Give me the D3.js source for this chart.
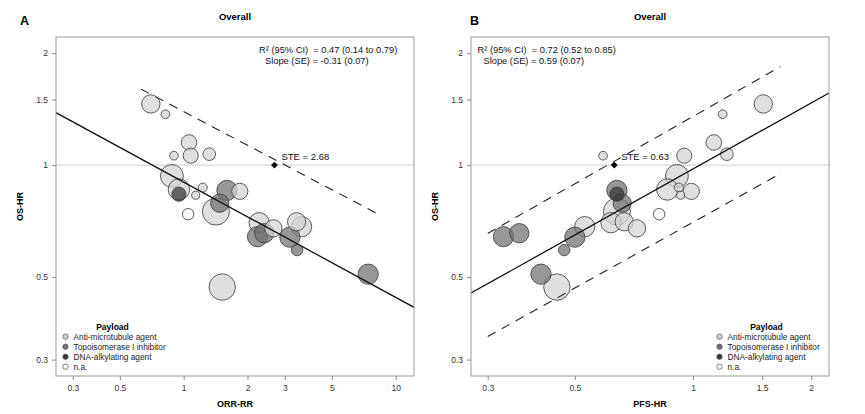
<!DOCTYPE html>
<html>
<head>
<meta charset="utf-8">
<script src="https://cdn.jsdelivr.net/npm/d3@7"></script>
<style>
  body { margin: 0; background: #fff; }
  svg { font-family: "Liberation Sans", Arial, sans-serif; }
</style>
</head>
<body>
<svg id="chart" width="865" height="414"></svg>
<script>
// one entry per trial, same order in every array
let trialOS  = [1.46, 1.37, 1.15, 1.06, 1.06, 1.07, 0.935, 0.86, 0.835, 0.87, 0.83, 0.855, 0.85,
                0.79, 0.75, 0.738, 0.70, 0.676, 0.704, 0.683, 0.642, 0.656, 0.64, 0.591, 0.509, 0.47];
let trialORR = [0.70, 0.82, 1.06, 0.90, 1.08, 1.32, 0.88, 0.95, 0.95, 1.23, 1.14, 1.60, 1.84,
                1.48, 1.42, 1.05, 2.27, 2.65, 3.41, 3.60, 2.23, 2.40, 3.17, 3.43, 7.42, 1.52];
let trialPFS = [1.51, 1.19, 1.13, 0.59, 0.95, 1.22, 0.91, 0.86, 0.64, 0.92, 0.93, 0.64, 0.99,
                0.66, 0.64, 0.82, 0.618, 0.72, 0.668, 0.53, 0.329, 0.361, 0.50, 0.47, 0.41, 0.45];
let trialPayload = ["anti", "anti", "anti", "anti", "anti", "anti", "anti", "anti", "dna", "anti", "anti", "topo", "anti",
                    "topo", "anti", "na", "anti", "anti", "anti", "anti", "topo", "topo", "topo", "topo", "topo", "anti"];
let trialN = [180, 40, 130, 40, 122, 85, 280, 245, 108, 44, 35, 219, 140,
              178, 390, 70, 219, 160, 178, 219, 219, 200, 219, 70, 219, 371];

let payloadKeys = ["anti", "topo", "dna", "na"];
let payloadLabels = ["Anti-microtubule agent", "Topoisomerase I inhibitor", "DNA-alkylating agent", "n.a."];
let payloadColors = ["#d2d2d2", "#6f6f6f", "#333333", "#f8f8f8"];

let osTicks = [0.3, 0.5, 1, 1.5, 2];
let orrTicks = [0.3, 0.5, 1, 2, 3, 5, 10];
let pfsTicks = [0.3, 0.5, 1, 1.5, 2];

// fitted line: ln(OS-HR) = intercept + slope * ln(x)
let fitORR = { intercept: -0.105, slope: -0.31 };
let fitPFS = { intercept: -0.024, slope: 0.59 };
// prediction-limit dashed lines, end points
let bandORR = [[[0.63, 1.60], [8.2, 0.74]]];
let bandPFS = [[[0.30, 0.655], [1.67, 1.84]], [[0.30, 0.346], [1.68, 0.952]]];
let steORR = 2.68;
let stePFS = 0.63;

let trials = trialOS.map((os, i) => ({
  os: os, orr: trialORR[i], pfs: trialPFS[i], payload: trialPayload[i], n: trialN[i]
}));

let svg = d3.select("#chart");
svg.append("rect").attr("width", 865).attr("height", 414).attr("fill", "#fff");

let color = d3.scaleOrdinal().domain(payloadKeys).range(payloadColors);
let radius = d3.scaleSqrt().domain([0, 400]).range([0, 13.7]);

function drawPanel(cfg) {
  let g = svg.append("g");
  let x = d3.scaleLog().domain(cfg.xDomain).range([cfg.left, cfg.right]);
  let y = d3.scaleLog().domain([0.271, 2.21]).range([cfg.bottom, cfg.top]);

  // panel letter and title
  g.append("text").attr("x", cfg.letterX).attr("y", 25)
    .attr("font-size", 12.5).attr("font-weight", "bold").text(cfg.letter);
  g.append("text").attr("x", (cfg.left + cfg.right) / 2).attr("y", 20)
    .attr("text-anchor", "middle").attr("font-size", 9.5).attr("font-weight", "bold")
    .text("Overall");

  // axes
  let xAxis = d3.axisBottom(x).tickValues(cfg.xTicks).tickFormat(d3.format("")).tickSize(4).tickPadding(5);
  let yAxis = d3.axisLeft(y).tickValues(osTicks).tickFormat(d3.format("")).tickSize(4).tickPadding(4);
  let gx = g.append("g").attr("transform", `translate(0,${cfg.bottom})`).call(xAxis);
  let gy = g.append("g").attr("transform", `translate(${cfg.left},0)`).call(yAxis);
  [gx, gy].forEach(a => {
    a.select(".domain").remove();
    a.selectAll("line").attr("stroke", "#8a8a8a");
    a.selectAll("text").attr("font-size", 8.5).attr("fill", "#333").attr("font-family", null);
  });

  g.append("text").attr("x", (cfg.left + cfg.right) / 2).attr("y", 407)
    .attr("text-anchor", "middle").attr("font-size", 9).attr("font-weight", "bold")
    .text(cfg.xTitle);
  g.append("text")
    .attr("transform", `translate(${cfg.yTitleX},${(cfg.top + cfg.bottom) / 2}) rotate(-90)`)
    .attr("text-anchor", "middle").attr("font-size", 9).attr("font-weight", "bold")
    .text("OS-HR");

  let clipId = "clip" + cfg.letter;
  g.append("clipPath").attr("id", clipId).append("rect")
    .attr("x", cfg.left).attr("y", cfg.top)
    .attr("width", cfg.right - cfg.left).attr("height", cfg.bottom - cfg.top);
  let plot = g.append("g").attr("clip-path", `url(#${clipId})`);

  // reference line at HR = 1
  plot.append("line")
    .attr("x1", cfg.left).attr("x2", cfg.right)
    .attr("y1", y(1)).attr("y2", y(1))
    .attr("stroke", "#cfcfcf").attr("stroke-width", 1);

  // bubbles, larger ones underneath
  let sorted = trials.slice().sort((a, b) => b.n - a.n);
  plot.selectAll("circle.trial")
    .data(sorted)
    .join("circle")
    .attr("class", "trial")
    .attr("cx", d => x(d[cfg.xKey]))
    .attr("cy", d => y(d.os))
    .attr("r", d => radius(d.n))
    .attr("fill", d => color(d.payload))
    .attr("fill-opacity", 0.72)
    .attr("stroke", "#3a3a3a")
    .attr("stroke-opacity", 0.9)
    .attr("stroke-width", 0.9);

  // regression line
  let line = d3.line().x(d => x(d[0])).y(d => y(d[1]));
  let fitEnds = cfg.xDomain.map(v => [v, Math.exp(cfg.fit.intercept + cfg.fit.slope * Math.log(v))]);
  plot.append("path").attr("d", line(fitEnds))
    .attr("fill", "none").attr("stroke", "#111").attr("stroke-width", 1.3);

  cfg.bands.forEach(b => {
    plot.append("path").attr("d", line(b))
      .attr("fill", "none").attr("stroke", "#222").attr("stroke-width", 1.1)
      .attr("stroke-dasharray", "9,7");
  });

  // surrogate threshold effect
  plot.append("path")
    .attr("d", d3.symbol(d3.symbolSquare, 24)())
    .attr("transform", `translate(${x(cfg.ste)},${y(1)}) rotate(45)`)
    .attr("fill", "#000");
  g.append("text").attr("x", x(cfg.ste) + 7).attr("y", y(1) - 5)
    .attr("font-size", 9.5).attr("fill", "#111")
    .text("STE = " + cfg.ste.toFixed(2));

  // statistics text
  g.append("text").attr("x", cfg.statX).attr("y", 52.5)
    .attr("font-size", 9.3).attr("fill", "#111").attr("xml:space", "preserve")
    .text(cfg.stat1);
  g.append("text").attr("x", cfg.statX + 6).attr("y", 63.5)
    .attr("font-size", 9.3).attr("fill", "#111")
    .text(cfg.stat2);

  // legend
  let lg = g.append("g");
  lg.append("text").attr("x", cfg.legendX + 47).attr("y", 329.5)
    .attr("text-anchor", "middle").attr("font-size", 8.5).attr("font-weight", "bold")
    .text("Payload");
  payloadKeys.forEach((k, i) => {
    let yy = 336.7 + i * 10;
    lg.append("circle").attr("cx", cfg.legendX).attr("cy", yy).attr("r", 2.7)
      .attr("fill", payloadColors[i]).attr("stroke", "#666").attr("stroke-width", 0.8);
    lg.append("text").attr("x", cfg.legendX + 8).attr("y", yy + 3)
      .attr("font-size", 8.3).attr("fill", "#222").text(payloadLabels[i]);
  });

  // frame
  g.append("rect")
    .attr("x", cfg.left).attr("y", cfg.top)
    .attr("width", cfg.right - cfg.left).attr("height", cfg.bottom - cfg.top)
    .attr("fill", "none").attr("stroke", "#9a9a9a").attr("stroke-width", 1);
}

drawPanel({
  letter: "A", letterX: 20, left: 56, right: 414, top: 37, bottom: 376,
  xDomain: [0.25, 12.2], xTicks: orrTicks, xKey: "orr", xTitle: "ORR-RR", yTitleX: 23,
  fit: fitORR, bands: bandORR, ste: steORR,
  stat1: "R\u00B2 (95% CI)  = 0.47 (0.14 to 0.79)", stat2: "Slope (SE) = -0.31 (0.07)", statX: 259,
  legendX: 65.5
});

drawPanel({
  letter: "B", letterX: 470, left: 471, right: 829, top: 37, bottom: 376,
  xDomain: [0.272, 2.22], xTicks: pfsTicks, xKey: "pfs", xTitle: "PFS-HR", yTitleX: 438,
  fit: fitPFS, bands: bandPFS, ste: stePFS,
  stat1: "R\u00B2 (95% CI)  = 0.72 (0.52 to 0.85)", stat2: "Slope (SE) = 0.59 (0.07)", statX: 477.5,
  legendX: 719.5
});
</script>
</body>
</html>
